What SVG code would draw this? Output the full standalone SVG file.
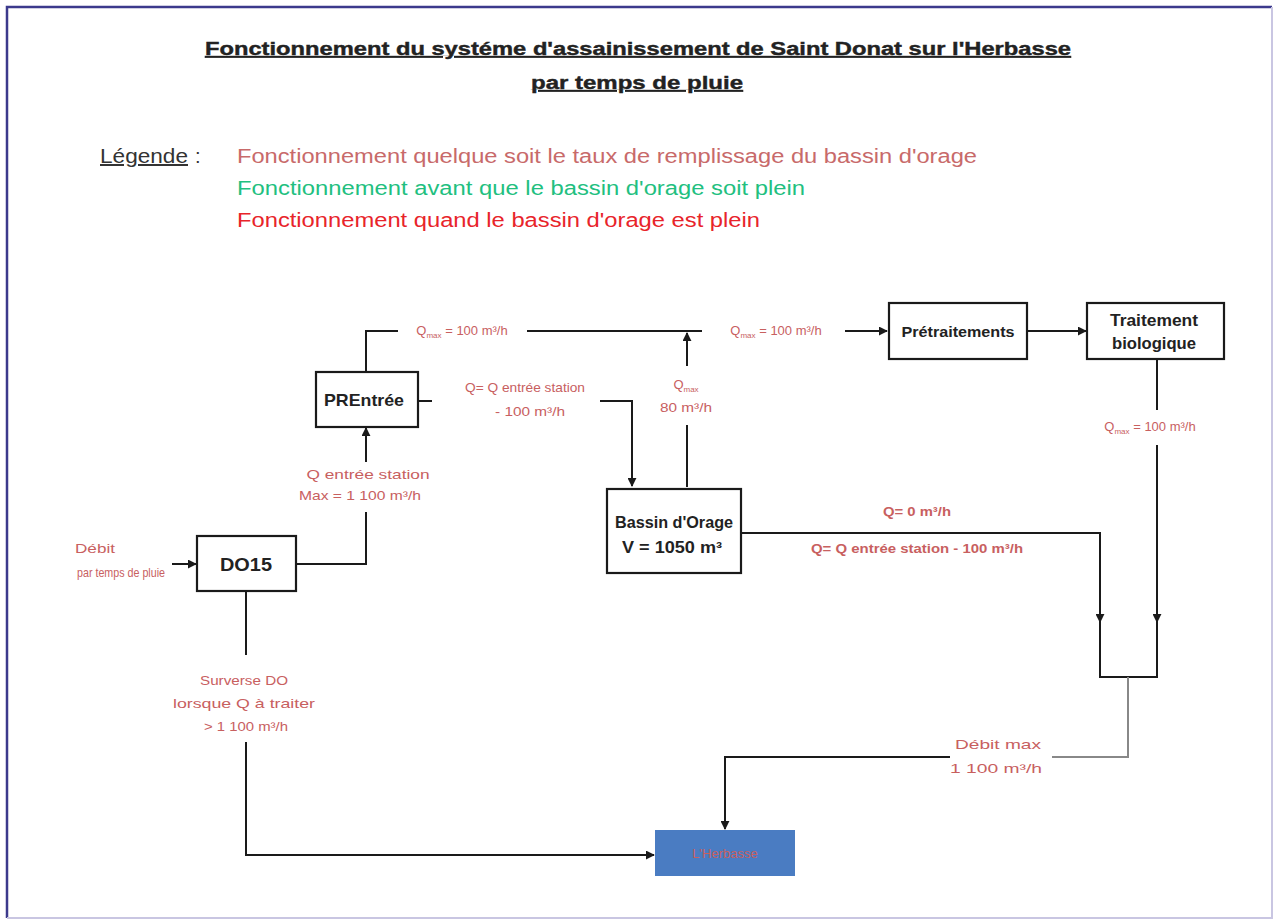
<svg xmlns="http://www.w3.org/2000/svg" width="1277" height="922" viewBox="0 0 1277 922">
<style>
.box{fill:#fff;stroke:#1a1a1a;stroke-width:2.2}
.nt{font-family:"Liberation Sans",Arial,sans-serif;font-weight:bold;fill:#222;text-anchor:middle}
.lbl{font-family:"Liberation Sans",Arial,sans-serif;fill:#c8605f;font-size:13px;text-anchor:middle}
.ln{fill:none;stroke:#1a1a1a;stroke-width:2}
.title{font-family:"Liberation Sans",Arial,sans-serif;font-weight:bold;fill:#222;font-size:18px;text-anchor:middle;text-decoration:underline;stroke:#222;stroke-width:0.4}
.leg{font-family:"Liberation Sans",Arial,sans-serif;font-size:20px}
</style>
<defs>
<marker id="arr" viewBox="0 0 10 10" refX="9" refY="5" markerWidth="4.5" markerHeight="4.5" orient="auto" markerUnits="strokeWidth">
<path d="M0,0 L10,5 L0,10 z" fill="#1a1a1a"/>
</marker>
</defs>
<rect x="0" y="0" width="1277" height="922" fill="#fff"/>
<path d="M7 918 V7 H1272" fill="none" stroke="#3c3a8c" stroke-width="2.5"/>
<path d="M1272 7 V918 H7" fill="none" stroke="#c9c6e2" stroke-width="2"/>

<g id="title">
<text class="title" x="638" y="55" textLength="866" lengthAdjust="spacingAndGlyphs">Fonctionnement du systéme d'assainissement de Saint Donat sur l'Herbasse</text>
<text class="title" x="637" y="89" textLength="212" lengthAdjust="spacingAndGlyphs">par temps de pluie</text>
</g>

<g id="legend">
<text class="leg" x="100" y="163" fill="#333" textLength="88" lengthAdjust="spacingAndGlyphs" text-decoration="underline">Légende</text>
<text class="leg" x="195" y="163" fill="#333">:</text>
<text class="leg" x="237" y="163" fill="#c86a6a" textLength="740" lengthAdjust="spacingAndGlyphs">Fonctionnement quelque soit le taux de remplissage du bassin d'orage</text>
<text class="leg" x="237" y="195" fill="#22bf80" textLength="568" lengthAdjust="spacingAndGlyphs">Fonctionnement avant que le bassin d'orage soit plein</text>
<text class="leg" x="237" y="227" fill="#e8242a" textLength="523" lengthAdjust="spacingAndGlyphs">Fonctionnement quand le bassin d'orage est plein</text>
</g>

<g id="connectors">
<path class="ln" d="M172 564 H196" marker-end="url(#arr)"/>
<path class="ln" d="M296 564 H366 V512"/>
<path class="ln" d="M366 462 V428" marker-end="url(#arr)"/>
<path class="ln" d="M366 371 V331 H398"/>
<path class="ln" d="M527 331 H702"/>
<path class="ln" d="M687 487 V425"/>
<path class="ln" d="M687 366 V333" marker-end="url(#arr)"/>
<path class="ln" d="M845 331 H887" marker-end="url(#arr)"/>
<path class="ln" d="M1027 331 H1086" marker-end="url(#arr)"/>
<path class="ln" d="M1157 359 V410"/>
<path class="ln" d="M1157 445 V622" marker-end="url(#arr)"/>
<path class="ln" d="M1157 616 V677 H1100 V616"/>
<path class="ln" d="M418 401 H432"/>
<path class="ln" d="M600 401 H632 V486" marker-end="url(#arr)"/>
<path class="ln" d="M741 533 H1100 V622" marker-end="url(#arr)"/>
<path fill="none" stroke="#888" stroke-width="2" d="M1128 677 V757 H1052"/>
<path class="ln" d="M950 757 H725 V829" marker-end="url(#arr)"/>
<path class="ln" d="M246 592 V655"/>
<path class="ln" d="M246 742 V855 H654" marker-end="url(#arr)"/>
</g>

<g id="labels">
<text class="lbl" x="95" y="553" textLength="40" lengthAdjust="spacingAndGlyphs">Débit</text>
<text class="lbl" x="121" y="577" textLength="88" lengthAdjust="spacingAndGlyphs">par temps de pluie</text>
<text class="lbl" x="368" y="479" font-size="15" textLength="123" lengthAdjust="spacingAndGlyphs">Q entrée station</text>
<text class="lbl" x="360" y="500" textLength="122" lengthAdjust="spacingAndGlyphs">Max = 1 100 m³/h</text>
<text class="lbl" x="462" y="335">Q<tspan font-size="8" dy="3">max</tspan><tspan dy="-3"> = 100 m³/h</tspan></text>
<text class="lbl" x="776" y="335">Q<tspan font-size="8" dy="3">max</tspan><tspan dy="-3"> = 100 m³/h</tspan></text>
<text class="lbl" x="1150" y="431">Q<tspan font-size="8" dy="3">max</tspan><tspan dy="-3"> = 100 m³/h</tspan></text>
<text class="lbl" x="686" y="389">Q<tspan font-size="8" dy="3">max</tspan></text>
<text class="lbl" x="686" y="412" textLength="52" lengthAdjust="spacingAndGlyphs">80 m³/h</text>
<text class="lbl" x="525" y="392" textLength="120" lengthAdjust="spacingAndGlyphs">Q= Q entrée station</text>
<text class="lbl" x="530" y="416" textLength="70" lengthAdjust="spacingAndGlyphs">- 100 m³/h</text>
<text class="lbl" x="917" y="516" fill="#22bf80" font-weight="bold" font-size="11" textLength="68" lengthAdjust="spacingAndGlyphs">Q= 0 m³/h</text>
<text class="lbl" x="917" y="553" fill="#e8242a" font-weight="bold" font-size="12" textLength="212" lengthAdjust="spacingAndGlyphs">Q= Q entrée station - 100 m³/h</text>
<text class="lbl" x="998" y="749" font-size="15" textLength="86" lengthAdjust="spacingAndGlyphs">Débit max</text>
<text class="lbl" x="996" y="773" font-size="15" textLength="92" lengthAdjust="spacingAndGlyphs">1 100 m³/h</text>
<text class="lbl" x="244" y="685" font-size="15" textLength="88" lengthAdjust="spacingAndGlyphs">Surverse DO</text>
<text class="lbl" x="244" y="708" font-size="15" textLength="142" lengthAdjust="spacingAndGlyphs">lorsque Q à traiter</text>
<text class="lbl" x="246" y="731" font-size="15" textLength="84" lengthAdjust="spacingAndGlyphs">&gt; 1 100 m³/h</text>
</g>

<g id="do15">
<rect class="box" x="197" y="536" width="99" height="55"/>
<text class="nt" x="246" y="571" font-size="18" textLength="52" lengthAdjust="spacingAndGlyphs">DO15</text>
</g>
<g id="prentree">
<rect class="box" x="316" y="372" width="102" height="55"/>
<text class="nt" x="364" y="406" font-size="17" textLength="80" lengthAdjust="spacingAndGlyphs">PREntrée</text>
</g>
<g id="pretraitements">
<rect class="box" x="889" y="303" width="138" height="56"/>
<text class="nt" x="958" y="337" font-size="15" textLength="113" lengthAdjust="spacingAndGlyphs">Prétraitements</text>
</g>
<g id="traitement">
<rect class="box" x="1087" y="303" width="137" height="56"/>
<text class="nt" x="1154" y="326" font-size="16" textLength="88" lengthAdjust="spacingAndGlyphs">Traitement</text>
<text class="nt" x="1154" y="349" font-size="16" textLength="84" lengthAdjust="spacingAndGlyphs">biologique</text>
</g>
<g id="bassin">
<rect class="box" x="607" y="489" width="134" height="84"/>
<text class="nt" x="674" y="528" font-size="16" textLength="118" lengthAdjust="spacingAndGlyphs">Bassin d'Orage</text>
<text class="nt" x="672" y="553" font-size="16" textLength="100" lengthAdjust="spacingAndGlyphs">V = 1050 m³</text>
</g>
<g id="herbasse">
<rect x="655" y="830" width="140" height="46" fill="#4a7cc2"/>
<text class="lbl" x="725" y="858" fill="#a05070" font-size="12">L'Herbasse</text>
</g>
</svg>
